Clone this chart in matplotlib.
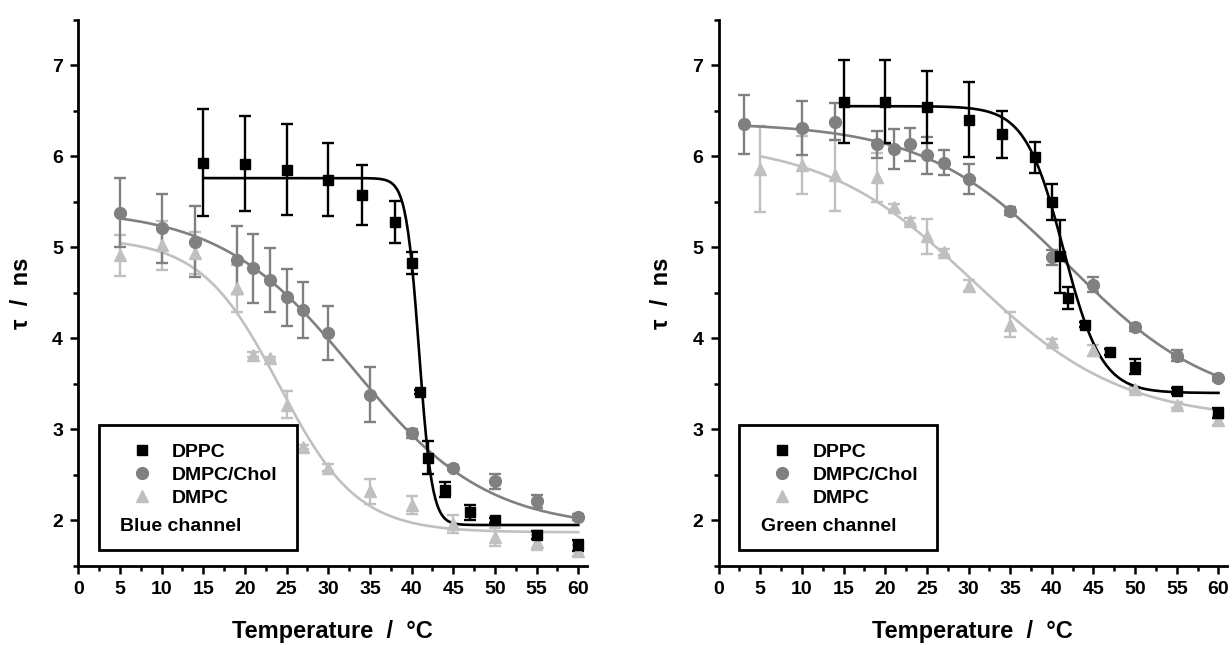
import matplotlib.pyplot as plt
import numpy as np
from matplotlib.lines import Line2D
from matplotlib.patches import Rectangle

# ---- blue channel (left) ----
dppc_T_b = [15, 20, 25, 30, 34, 38, 40, 41, 42, 44, 47, 50, 55, 60]
dppc_tau_b = [5.93, 5.92, 5.85, 5.74, 5.57, 5.28, 4.83, 3.41, 2.69, 2.34, 2.09, 2.00, 1.84, 1.73]
dppc_err_b = [0.59, 0.52, 0.50, 0.40, 0.33, 0.23, 0.12, 0.02, 0.18, 0.08, 0.08, 0.03, 0.04, 0.06]

chol_T_b = [5, 10, 14, 19, 21, 23, 25, 27, 30, 35, 40, 45, 50, 55, 60]
chol_tau_b = [5.38, 5.21, 5.06, 4.86, 4.77, 4.64, 4.45, 4.31, 4.06, 3.38, 2.96, 2.58, 2.43, 2.21, 2.04]
chol_err_b = [0.38, 0.38, 0.39, 0.37, 0.38, 0.35, 0.31, 0.31, 0.30, 0.30, 0.05, 0.03, 0.08, 0.07, 0.03]

dmpc_T_b = [5, 10, 14, 19, 21, 23, 25, 27, 30, 35, 40, 45, 50, 55, 60]
dmpc_tau_b = [4.91, 5.02, 4.94, 4.55, 3.82, 3.78, 3.27, 2.81, 2.58, 2.32, 2.17, 1.96, 1.82, 1.76, 1.67]
dmpc_err_b = [0.23, 0.27, 0.23, 0.26, 0.03, 0.02, 0.15, 0.02, 0.04, 0.14, 0.10, 0.10, 0.10, 0.08, 0.06]

# ---- green channel (right) ----
dppc_T_g = [15, 20, 25, 30, 34, 38, 40, 41, 42, 44, 47, 50, 55, 60]
dppc_tau_g = [6.60, 6.60, 6.54, 6.40, 6.24, 5.99, 5.50, 4.90, 4.44, 4.15, 3.85, 3.69, 3.42, 3.18]
dppc_err_g = [0.46, 0.46, 0.40, 0.41, 0.26, 0.17, 0.20, 0.40, 0.12, 0.03, 0.03, 0.08, 0.03, 0.05]

chol_T_g = [3, 10, 14, 19, 21, 23, 25, 27, 30, 35, 40, 45, 50, 55, 60]
chol_tau_g = [6.35, 6.31, 6.38, 6.13, 6.08, 6.13, 6.01, 5.93, 5.75, 5.40, 4.89, 4.59, 4.12, 3.81, 3.56]
chol_err_g = [0.32, 0.30, 0.20, 0.15, 0.22, 0.18, 0.20, 0.14, 0.17, 0.04, 0.08, 0.08, 0.04, 0.06, 0.03]

dmpc_T_g = [5, 10, 14, 19, 21, 23, 25, 27, 30, 35, 40, 45, 50, 55, 60]
dmpc_tau_g = [5.86, 5.90, 5.79, 5.77, 5.44, 5.29, 5.12, 4.95, 4.58, 4.15, 3.96, 3.87, 3.44, 3.27, 3.10]
dmpc_err_g = [0.47, 0.32, 0.39, 0.27, 0.04, 0.03, 0.19, 0.03, 0.06, 0.14, 0.03, 0.06, 0.03, 0.03, 0.05]

# Boltzmann fit parameters (A1, A2, x0, dx)
fit_dppc_b = [5.76, 1.95, 40.9, 0.78]
fit_chol_b = [5.42, 1.91, 33.0, 8.0]
fit_dmpc_b = [5.10, 1.87, 24.1, 4.7]
fit_dppc_g = [6.55, 3.40, 41.4, 2.3]
fit_chol_g = [6.37, 3.23, 42.0, 8.7]
fit_dmpc_g = [6.17, 3.10, 30.5, 9.0]

labels = ["DPPC", "DMPC/Chol", "DMPC"]
c_dppc, c_chol, c_dmpc = "black", "#808080", "#c0c0c0"

plt.rcParams['font.family'] = ['Liberation Sans', 'DejaVu Sans']
plt.rcParams['font.weight'] = 'bold'


def boltzmann(t, a1, a2, x0, dx):
    return a2 + (a1 - a2) / (1 + np.exp((t - x0) / dx))


def panel(ax, series, channel):
    for T, tau, err, fit, color, marker, ms in series:
        t = np.linspace(T[0], 60, 400)
        ax.plot(t, boltzmann(t, *fit), color=color, lw=1.9)
        ax.errorbar(T, tau, yerr=err, fmt=marker, color=color, ms=ms,
                    capsize=4, elinewidth=1.7, capthick=1.7)

    ax.set_xlim(0, 61)
    ax.set_ylim(1.5, 7.5)
    ax.set_xticks(np.arange(0, 61, 5))
    ax.set_xticks(np.arange(2.5, 61, 5), minor=True)
    ax.set_yticks(np.arange(2, 8, 1))
    ax.set_yticks(np.arange(1.5, 7.6, 0.5), minor=True)
    for s in ["top", "right"]:
        ax.spines[s].set_visible(False)
    for s in ["left", "bottom"]:
        ax.spines[s].set_linewidth(2)
    ax.tick_params(which="major", direction="out", length=6, width=1.8,
                   labelsize=14, pad=5)
    ax.tick_params(which="minor", direction="out", length=3.5, width=1.8)
    ax.set_xlabel("Temperature  /  °C", fontsize=17, fontweight="bold", labelpad=16)
    ax.set_ylabel("τ  /  ns", fontsize=17, fontweight="bold", labelpad=14)

    # legend box
    handles = [Line2D([], [], ls="", marker="s", color=c_dppc, ms=7.5),
               Line2D([], [], ls="", marker="o", color=c_chol, ms=8.5),
               Line2D([], [], ls="", marker="^", color=c_dmpc, ms=9)]
    ax.legend(handles, labels, loc="upper left", bbox_to_anchor=(0.106, 0.225),
              frameon=False, fontsize=14, borderpad=0, borderaxespad=0,
              handlelength=1.0, handletextpad=1.05, labelspacing=0.28)
    ax.text(0.083, 0.073, channel, transform=ax.transAxes, fontsize=14,
            va="center", ha="left")
    ax.add_patch(Rectangle((0.041, 0.029), 0.389, 0.229, transform=ax.transAxes,
                           fill=False, lw=2, ec="black", zorder=5))


fig = plt.figure(figsize=(12.31, 6.49), dpi=100)
ax_b = fig.add_axes([0.0636, 0.1279, 0.4129, 0.8418])
ax_g = fig.add_axes([0.5837, 0.1279, 0.4129, 0.8418])

panel(ax_b, [
    (dmpc_T_b, dmpc_tau_b, dmpc_err_b, fit_dmpc_b, c_dmpc, "^", 9),
    (chol_T_b, chol_tau_b, chol_err_b, fit_chol_b, c_chol, "o", 8.5),
    (dppc_T_b, dppc_tau_b, dppc_err_b, fit_dppc_b, c_dppc, "s", 7),
], "Blue channel")

panel(ax_g, [
    (dmpc_T_g, dmpc_tau_g, dmpc_err_g, fit_dmpc_g, c_dmpc, "^", 9),
    (chol_T_g, chol_tau_g, chol_err_g, fit_chol_g, c_chol, "o", 8.5),
    (dppc_T_g, dppc_tau_g, dppc_err_g, fit_dppc_g, c_dppc, "s", 7),
], "Green channel")

fig.savefig("out.png", dpi=100)
